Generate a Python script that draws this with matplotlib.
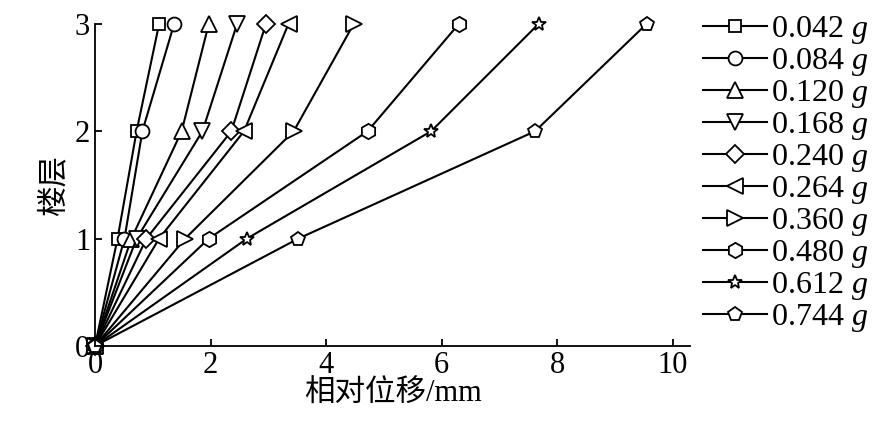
import matplotlib.pyplot as plt

plt.rcParams['font.family'] = ['Liberation Serif', 'Noto Sans CJK SC']
plt.rcParams['mathtext.fontset'] = 'custom'
plt.rcParams['mathtext.it'] = 'Liberation Serif:italic'
plt.rcParams['mathtext.rm'] = 'Liberation Serif'

floors = [0, 1, 2, 3]
labels = ['0.042', '0.084', '0.120', '0.168', '0.240', '0.264', '0.360', '0.480', '0.612', '0.744']
disp = [
    [0, 0.39, 0.72, 1.11],
    [0, 0.51, 0.82, 1.37],
    [0, 0.63, 1.50, 1.97],
    [0, 0.72, 1.86, 2.46],
    [0, 0.89, 2.36, 2.96],
    [0, 1.11, 2.58, 3.35],
    [0, 1.56, 3.44, 4.48],
    [0, 1.97, 4.72, 6.30],
    [0, 2.63, 5.82, 7.68],
    [0, 3.52, 7.62, 9.55],
]
markers = ['s', 'o', '^', 'v', 'D', '<', '>', 'h', '*', 'p']
sizes = [9, 10, 11, 11, 9, 11, 11, 11, 10, 10]

fig = plt.figure(figsize=(8.88, 4.33), dpi=100)
ax = fig.add_axes([0.107, 0.201, 0.67, 0.744])
for lab, d, m, s in zip(labels, disp, markers, sizes):
    ax.plot(d, floors, color='black', lw=1.5, marker=m, ms=s, mfc='white',
            mec='black', mew=1.3, clip_on=False, label=lab + r' $g$')

ax.set_xlim(0, 10.3)
ax.set_ylim(0, 3)
ax.set_xticks([0, 2, 4, 6, 8, 10])
ax.set_yticks([0, 1, 2, 3])
for sp in ['top', 'right']:
    ax.spines[sp].set_visible(False)
ax.spines['left'].set_linewidth(1.3)
ax.spines['bottom'].set_linewidth(1.3)
ax.tick_params(direction='in', labelsize=22, width=1.3, length=5)
ax.set_xlabel('相对位移/mm', fontsize=22, labelpad=0)
ax.set_ylabel('楼层', fontsize=22, labelpad=4)
ax.legend(loc='upper left', bbox_to_anchor=(1.0, 1.07), frameon=False, fontsize=23,
          handlelength=2.0, labelspacing=0.0, handletextpad=0.15, borderaxespad=0)
fig.savefig('out.png', dpi=100)
